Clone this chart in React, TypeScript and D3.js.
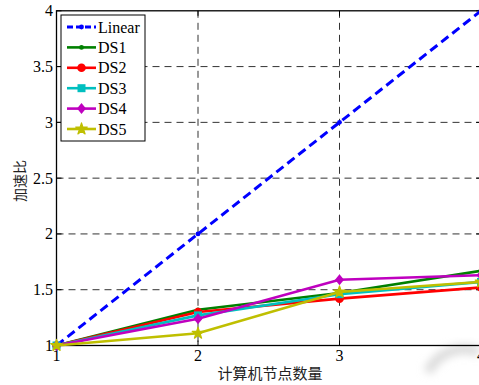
import React from "react";
import * as d3 from "d3";

// Speedup vs. number of compute nodes
const nodes = [1, 2, 3, 4];
const linear = [1, 2, 3, 4];
const ds1 = [1, 1.32, 1.47, 1.67];
const ds2 = [1, 1.3, 1.42, 1.52];
const ds3 = [1, 1.27, 1.46, 1.57];
const ds4 = [1, 1.24, 1.59, 1.63];
const ds5 = [1, 1.11, 1.48, 1.57];
const seriesNames = ["Linear", "DS1", "DS2", "DS3", "DS4", "DS5"];
const yTicks = [1, 1.5, 2, 2.5, 3, 3.5, 4];
const xTicks = [1, 2, 3, 4];

type Marker = "dot" | "circle" | "square" | "diamond" | "star";

const W = 479;
const H = 385;
const left = 56.5;
const right = 481;
const top = 10.8;
const bottom = 345.5;

const serif = "'Liberation Serif', 'Times New Roman', serif";
const cjk = "'Noto Sans CJK SC', sans-serif";

function MarkerShape({ kind, x, y, color }: { kind: Marker; x: number; y: number; color: string }) {
  if (kind === "dot") return <circle cx={x} cy={y} r={2.4} fill={color} />;
  if (kind === "circle") return <circle cx={x} cy={y} r={4.3} fill={color} />;
  if (kind === "square") return <rect x={x - 4} y={y - 4} width={8} height={8} fill={color} />;
  if (kind === "diamond")
    return <path d={`M${x},${y - 5.5}L${x + 4.5},${y}L${x},${y + 5.5}L${x - 4.5},${y}Z`} fill={color} />;
  const star = d3.symbol(d3.symbolStar, 42)() as string;
  return <path d={star} transform={`translate(${x},${y})`} fill={color} stroke={color} strokeWidth={1.2} strokeLinejoin="round" />;
}

export default function App() {
  const x = d3.scaleLinear().domain([1, 4]).range([left, right]);
  const y = d3.scaleLinear().domain([1, 4]).range([bottom, top]);

  const series: { name: string; values: number[]; color: string; marker: Marker; dashed?: boolean }[] = [
    { name: seriesNames[0], values: linear, color: "#0000ff", marker: "dot", dashed: true },
    { name: seriesNames[1], values: ds1, color: "#008000", marker: "dot" },
    { name: seriesNames[2], values: ds2, color: "#ff0000", marker: "circle" },
    { name: seriesNames[3], values: ds3, color: "#00bfbf", marker: "square" },
    { name: seriesNames[4], values: ds4, color: "#bf00bf", marker: "diamond" },
    { name: seriesNames[5], values: ds5, color: "#bfbf00", marker: "star" },
  ];

  const line = d3
    .line<number>()
    .x((_, i) => x(nodes[i]))
    .y((v) => y(v));

  const legendX = 61;
  const legendY = 15;
  const legendW = 84;
  const legendH = 126;
  const rowH = 20.4;

  return (
    <svg
      width={W}
      height={H}
      style={{ position: "absolute", left: 0, top: 0, background: "#fff" }}
    >
      <defs>
        <filter id="soft" x="-50%" y="-50%" width="200%" height="200%">
          <feGaussianBlur stdDeviation="4" />
        </filter>
      </defs>
      <rect x={0} y={0} width={W} height={H} fill="#fff" />

      {/* faint stamp in the lower right corner */}
      <path
        d="M428,372 A40,40 0 0 1 479,352"
        fill="none"
        stroke="#d8d8d8"
        strokeWidth={9}
        filter="url(#soft)"
      />

      {/* grid */}
      {xTicks.slice(1, -1).map((t) => (
        <line key={"gx" + t} x1={x(t)} x2={x(t)} y1={top} y2={bottom} stroke="#333" strokeWidth={1} strokeDasharray="7,5" />
      ))}
      {yTicks.slice(1, -1).map((t) => (
        <line key={"gy" + t} x1={left} x2={right} y1={y(t)} y2={y(t)} stroke="#333" strokeWidth={1} strokeDasharray="7,5" />
      ))}

      {/* axes box and ticks */}
      <rect x={left} y={top} width={right - left} height={bottom - top} fill="none" stroke="#000" strokeWidth={1.3} />
      {yTicks.map((t) => (
        <g key={"ty" + t}>
          <line x1={left} x2={left + 5} y1={y(t)} y2={y(t)} stroke="#000" />
          <line x1={right} x2={right - 5} y1={y(t)} y2={y(t)} stroke="#000" />
          <text x={left - 3.5} y={y(t) + 5.5} textAnchor="end" fontFamily={serif} fontSize={16} fill="#000">
            {t}
          </text>
        </g>
      ))}
      {xTicks.map((t) => (
        <g key={"tx" + t}>
          <line x1={x(t)} x2={x(t)} y1={bottom} y2={bottom - 5} stroke="#000" />
          <line x1={x(t)} x2={x(t)} y1={top} y2={top + 5} stroke="#000" />
          <text x={x(t)} y={bottom + 15} textAnchor="middle" fontFamily={serif} fontSize={16} fill="#000">
            {t}
          </text>
        </g>
      ))}

      {/* series */}
      {series.map((s) => (
        <g key={s.name}>
          <path
            d={line(s.values) as string}
            fill="none"
            stroke={s.color}
            strokeWidth={s.dashed ? 3 : 2.6}
            strokeDasharray={s.dashed ? "9,5" : undefined}
          />
          {s.values.map((v, i) => (
            <MarkerShape key={i} kind={s.marker} x={x(nodes[i])} y={y(v)} color={s.color} />
          ))}
        </g>
      ))}

      {/* axis titles */}
      <text x={270} y={379} textAnchor="middle" fontFamily={cjk} fontSize={15} fill="#222">
        计算机节点数量
      </text>
      <text
        transform="translate(25,181) rotate(-90)"
        textAnchor="middle"
        fontFamily={cjk}
        fontSize={14}
        fill="#222"
      >
        加速比
      </text>

      {/* legend */}
      <rect x={legendX} y={legendY} width={legendW} height={legendH} fill="#fff" stroke="#000" strokeWidth={1} />
      {series.map((s, i) => {
        const cy = legendY + 12 + i * rowH;
        return (
          <g key={"lg" + s.name}>
            <line
              x1={legendX + 6}
              x2={legendX + 35}
              y1={cy}
              y2={cy}
              stroke={s.color}
              strokeWidth={s.dashed ? 3 : 2.6}
              strokeDasharray={s.dashed ? "6,3" : undefined}
            />
            <MarkerShape kind={s.marker} x={legendX + 20.5} y={cy} color={s.color} />
            <text x={legendX + 37} y={cy + 5.5} fontFamily={serif} fontSize={16} fill="#000">
              {s.name}
            </text>
          </g>
        );
      })}
    </svg>
  );
}
